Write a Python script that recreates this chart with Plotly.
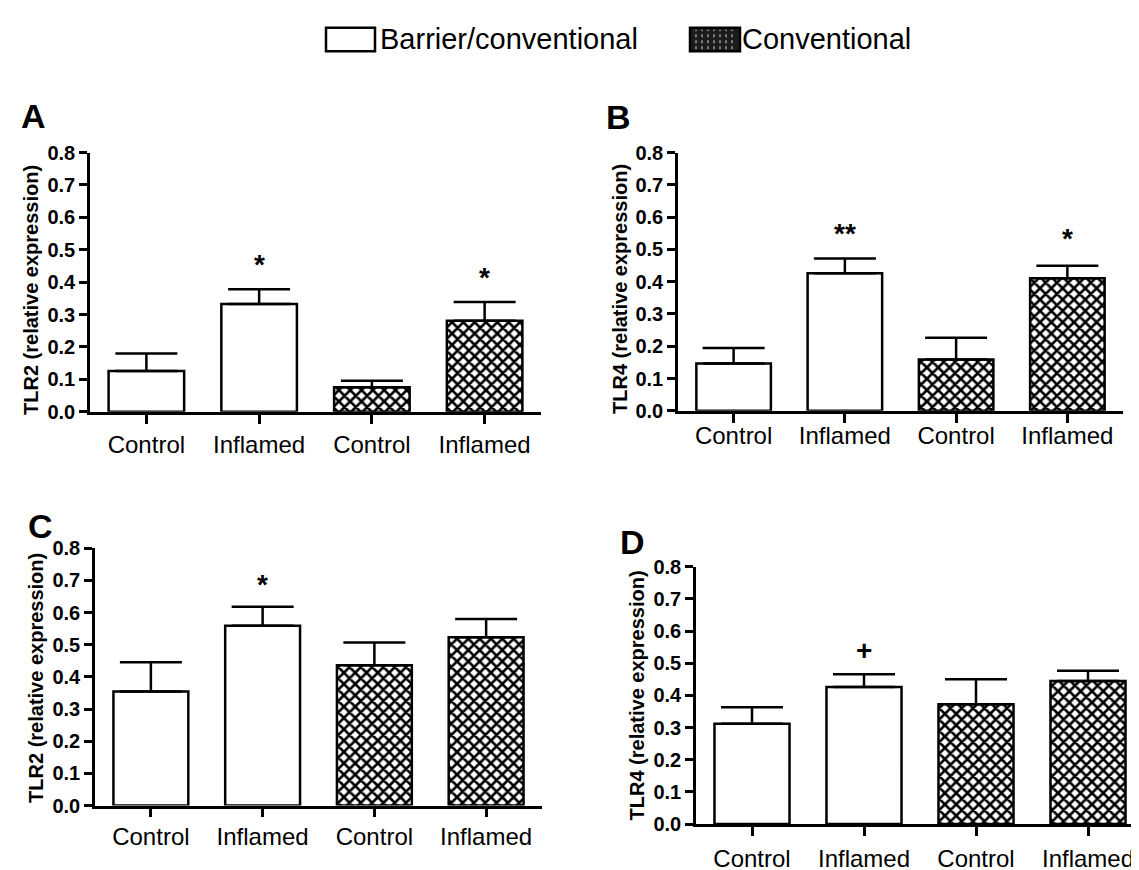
import plotly.graph_objects as go

W, H = 1139, 870

# ---------------- data ----------------
x_pos = [0, 1, 2, 3]
tick_labels = ["Control", "Inflamed", "Control", "Inflamed"]
housing = ["Barrier/conventional", "Barrier/conventional", "Conventional", "Conventional"]

tlr2_a = [0.126, 0.333, 0.076, 0.281]
tlr2_a_err = [0.054, 0.045, 0.020, 0.058]
tlr4_b = [0.147, 0.426, 0.159, 0.411]
tlr4_b_err = [0.048, 0.046, 0.067, 0.038]
tlr2_c = [0.355, 0.559, 0.436, 0.523]
tlr2_c_err = [0.091, 0.059, 0.071, 0.057]
tlr4_d = [0.312, 0.426, 0.373, 0.445]
tlr4_d_err = [0.051, 0.040, 0.077, 0.032]

sig_a = ["", "*", "", "*"]
sig_a_y = [None, 0.456, None, 0.414]
sig_b = ["", "**", "", "*"]
sig_b_y = [None, 0.549, None, 0.534]
sig_c = ["", "*", "", ""]
sig_c_y = [None, 0.686, None, None]
sig_d = ["", "+", "", ""]
sig_d_y = [None, 0.540, None, None]

y_titles = ["TLR2 (relative expression)", "TLR4 (relative expression)",
            "TLR2 (relative expression)", "TLR4 (relative expression)"]
panel_letters = ["A", "B", "C", "D"]

# ---------------- layout helpers (pixel boxes) ----------------
FONT = "Liberation Sans, Arial, sans-serif"
panels = [
    dict(vals=tlr2_a, err=tlr2_a_err, sig=sig_a, sig_y=sig_a_y, box=(82, 533, 137, 403),
         letter_xy=(25, 100), title_xy=(23, 278), xstand=1),
    dict(vals=tlr4_b, err=tlr4_b_err, sig=sig_b, sig_y=sig_b_y, box=(670, 1115, 137, 402),
         letter_xy=(610, 101), title_xy=(612, 277), xstand=-7),
    dict(vals=tlr2_c, err=tlr2_c_err, sig=sig_c, sig_y=sig_c_y, box=(87, 534, 543, 807),
         letter_xy=(32, 520), title_xy=(28, 676), xstand=-1),
    dict(vals=tlr4_d, err=tlr4_d_err, sig=sig_d, sig_y=sig_d_y, box=(688, 1136, 562, 826),
         letter_xy=(624, 537), title_xy=(629, 694), xstand=2),
]

fig = go.Figure()
annotations = []
layout_axes = {}

for i, p in enumerate(panels):
    n = i + 1
    xa = "x" if n == 1 else f"x{n}"
    ya = "y" if n == 1 else f"y{n}"
    x0, x1, y0, y1 = p["box"]
    idx_w = [k for k in range(4) if housing[k] == "Barrier/conventional"]
    idx_c = [k for k in range(4) if housing[k] == "Conventional"]
    for idx, is_conv in ((idx_w, False), (idx_c, True)):
        marker = dict(color="white", line=dict(color="black", width=2.5))
        if is_conv:
            marker["pattern"] = dict(shape="x", fgcolor="black", bgcolor="white",
                                     size=8, solidity=0.55, fillmode="replace")
        fig.add_trace(go.Bar(
            x=[x_pos[k] for k in idx], y=[p["vals"][k] for k in idx],
            width=0.67, marker=marker, xaxis=xa, yaxis=ya, showlegend=False,
            name=housing[idx[0]],
            error_y=dict(type="data", symmetric=False,
                         array=[p["err"][k] for k in idx], arrayminus=[0] * len(idx),
                         color="black", thickness=2.5, width=31),
        ))
    xkey = "xaxis" if n == 1 else f"xaxis{n}"
    ykey = "yaxis" if n == 1 else f"yaxis{n}"
    layout_axes[xkey] = dict(
        domain=[x0 / W, x1 / W], anchor=ya, range=[-0.5, 3.5],
        tickvals=x_pos, ticktext=tick_labels, showline=True, linecolor="black", linewidth=2.5,
        ticks="outside", ticklen=9, tickwidth=2.5, tickcolor="black", showgrid=False,
        zeroline=False, tickfont=dict(family=FONT, size=24, color="black"),
        ticklabelstandoff=p["xstand"], fixedrange=True,
    )
    layout_axes[ykey] = dict(
        domain=[1 - y1 / H, 1 - y0 / H], anchor=xa, range=[0, 0.8], dtick=0.1, tick0=0,
        tickformat=".1f", showline=True, linecolor="black", linewidth=2.5,
        ticks="outside", ticklen=8, tickwidth=2.5, tickcolor="black", showgrid=False,
        zeroline=False, tickfont=dict(family=FONT, size=20, color="black", weight="bold"),
        fixedrange=True,
    )
    # y-axis title
    tx, ty = p["title_xy"]
    annotations.append(dict(
        x=tx / W, y=1 - ty / H, xref="paper", yref="paper", text=y_titles[i],
        textangle=-90, showarrow=False, xanchor="center", yanchor="middle",
        font=dict(family=FONT, size=20, color="black", weight="bold"),
    ))
    # significance marks
    for k in range(4):
        if p["sig"][k]:
            annotations.append(dict(
                x=x_pos[k], y=p["sig_y"][k], xref=xa, yref=ya, text=p["sig"][k],
                showarrow=False, xanchor="center", yanchor="middle",
                font=dict(family=FONT, size=28, color="black", weight="bold"),
            ))
    lx, ly = p["letter_xy"]
    annotations.append(dict(
        x=lx / W, y=1 - ly / H, xref="paper", yref="paper", text=panel_letters[i],
        showarrow=False, xanchor="center", yanchor="middle",
        font=dict(family=FONT, size=34, color="black", weight="bold"),
    ))

# ---------------- legend (drawn at top) ----------------
shapes = []
shapes.append(dict(type="rect", xref="paper", yref="paper",
                   x0=318 / W, x1=367 / W, y0=1 - 33 / H, y1=1 - 9 / H,
                   fillcolor="white", line=dict(color="black", width=2.5)))
shapes.append(dict(type="rect", xref="paper", yref="paper",
                   x0=682 / W, x1=732 / W, y0=1 - 33 / H, y1=1 - 9 / H,
                   fillcolor="#1c1c1c", line=dict(color="black", width=2.5)))
for sx in range(688, 730, 6):
    shapes.append(dict(type="line", xref="paper", yref="paper",
                       x0=sx / W, x1=sx / W, y0=1 - 31 / H, y1=1 - 11 / H,
                       line=dict(color="#d8d8d8", width=1, dash="dot")))
annotations.append(dict(x=370 / W, y=1 - 21 / H, xref="paper", yref="paper",
                        text="Barrier/conventional", showarrow=False, xanchor="left",
                        yanchor="middle", font=dict(family=FONT, size=29, color="black")))
annotations.append(dict(x=732 / W, y=1 - 21 / H, xref="paper", yref="paper",
                        text="Conventional", showarrow=False, xanchor="left",
                        yanchor="middle", font=dict(family=FONT, size=29, color="black")))

fig.update_layout(
    width=W, height=H, autosize=False,
    margin=dict(l=0, r=0, t=0, b=0),
    paper_bgcolor="white", plot_bgcolor="white",
    barmode="overlay", showlegend=False,
    annotations=annotations, shapes=shapes,
    font=dict(family=FONT, color="black"),
    **layout_axes,
)

fig.write_html("out.html", config={"displayModeBar": False})
